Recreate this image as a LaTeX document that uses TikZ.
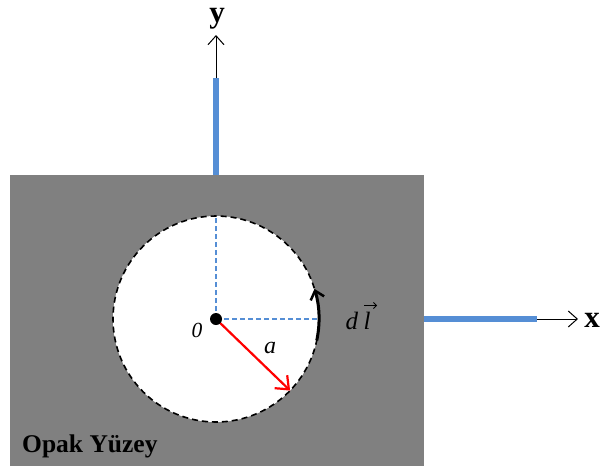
\documentclass[tikz,border=0pt]{standalone}
\usepackage{fontspec}
\setmainfont{Liberation Serif}
\usetikzlibrary{arrows.meta,calc}
\definecolor{surf}{RGB}{128,128,128}
\definecolor{axblue}{RGB}{85,142,213}
\tikzset{
  axisbar/.style={axblue,line width=6pt},
  axisarrow/.style={black,line width=1pt,-{Straight Barb[length=9pt,width=16pt]}},
  guide/.style={axblue,line width=1.2pt,dash pattern=on 5pt off 3pt},
  lbl/.style={inner sep=0pt,anchor=base,font=\fontsize{31}{33}\selectfont\bfseries}
}
\begin{document}
\begin{tikzpicture}[x=1pt,y=-1pt]
\useasboundingbox (0,0) rectangle (601,466);
\fill[surf] (10,175) rectangle (424,466);
\coordinate (O) at (216,319);
\fill[white] (O) circle (103);
\draw[black,line width=1.6pt,dash pattern=on 6pt off 4pt] (O) circle (103);
% guides
\coordinate (T) at (216,216);
\coordinate (R) at (319,319);
\draw[guide] (O) -- (T);
\draw[guide] (O) -- (R);
% y axis
\coordinate (yb) at (216,175);
\coordinate (ym) at (216,78);
\coordinate (yt) at (216,35);
\draw[axisbar] (yb) -- (ym);
\draw[axisarrow] (ym) -- (yt);
\node[lbl] (ylab) at (217,22.5) {y};
% x axis
\coordinate (xl) at (424,319);
\coordinate (xm) at (537,319);
\coordinate (xr) at (578,319);
\draw[axisbar] (xl) -- (xm);
\draw[axisarrow] (xm) -- (xr);
\node[lbl] (xlab) at (592,327) {x};
% radius
\coordinate (P) at ($(O)+(44:103)$);
\draw[red,line width=2.2pt,-{Straight Barb[length=11pt,width=18pt,line width=2.2pt]}] (O) -- (P);
\fill[black] (O) circle (6);
\node[inner sep=0pt,anchor=base,font=\fontsize{21.5}{23}\selectfont\itshape] (zero) at (197,337) {0};
\node[inner sep=0pt,anchor=base,font=\fontsize{24}{26}\selectfont\itshape] (alab) at (270,353) {a};
% dl
\coordinate (D) at ($(O)+(12:103)$);
\draw[black,line width=3pt,-{Straight Barb[length=8pt,width=14pt,line width=2.5pt]}] (D) arc[start angle=12,end angle=-17,radius=103];
\node[inner sep=0pt,anchor=base,font=\fontsize{25}{27}\selectfont\itshape] (dl) at (358,329)
  {d\hspace{0.22em}l\hspace{0.15em}};
\coordinate (va) at (364,305.5);
\coordinate (vb) at (377,305.5);
\draw[black,line width=0.8pt,-{Straight Barb[length=3pt,width=6pt,line width=0.8pt]}] (va) -- (vb);
\node[inner sep=0pt,anchor=base west,font=\fontsize{25.5}{27}\selectfont\bfseries] (opak) at (22,452) {Opak Yüzey};
\end{tikzpicture}
\end{document}
